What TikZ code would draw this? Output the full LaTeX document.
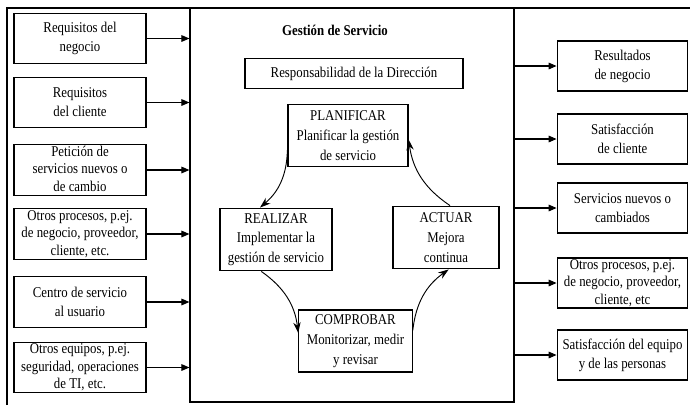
\documentclass[tikz,border=0pt]{standalone}
\usepackage{fontspec}
\setmainfont{Liberation Serif}[FakeStretch=0.86]
\usetikzlibrary{arrows.meta}

\begin{document}
\begin{tikzpicture}[
        x=0.75pt, y=-0.75pt,
        every node/.style={font=\fontsize{11.2}{14.2}\selectfont, align=center},
        box/.style={draw, line width=0.9pt, inner sep=0pt},
        inbox/.style={box, minimum width=99pt, minimum height=38pt},
        outbox/.style={box, minimum width=98pt, minimum height=37.5pt},
        tight/.style={font=\fontsize{11.2}{13.2}\selectfont, text depth=2pt},
        phase/.style={box, minimum height=47pt, font=\fontsize{11.2}{14.8}\selectfont},
        feed/.style={line width=0.8pt, -{Triangle[length=6pt, width=5pt]}},
        cycle/.style={line width=0.7pt, -{Stealth[length=8pt, width=5.5pt]}, bend left=24},
    ]
        \useasboundingbox (0,0) rectangle (690,405);
        \draw[line width=0.9pt] (7,405) -- (7,8) -- (690,8);
        \node[box, minimum width=243pt, minimum height=295.5pt] (main) at (352,205) {};

        \node[inbox] (req1) at (80,38.5) {Requisitos del\\negocio};
        \node[inbox] (req2) at (80,102.5) {Requisitos\\del cliente};
        \node[inbox, tight] (req3) at (80,170) {Petición de\\servicios nuevos o\\de cambio};
        \node[inbox, tight] (req4) at (80,234) {Otros procesos, p.ej.\\de negocio, proveedor,\\cliente, etc.};
        \node[inbox] (req5) at (80,302) {Centro de servicio\\al usuario};
        \node[inbox, tight] (req6) at (80,367.5) {Otros equipos, p.ej.\\seguridad, operaciones\\de TI, etc.};

        \node[outbox] (res1) at (622.5,66) {Resultados\\de negocio};
        \node[outbox] (res2) at (622.5,139) {Satisfacción\\de cliente};
        \node[outbox] (res3) at (622.5,208) {Servicios nuevos o\\cambiados};
        \node[outbox, tight] (res4) at (622.5,283) {Otros procesos, p.ej.\\de negocio, proveedor,\\cliente, etc};
        \node[outbox] (res5) at (622.5,355) {Satisfacción del equipo\\y de las personas};

        \node[font=\fontsize{11.2}{14.2}\selectfont\bfseries] (title) at (335,30) {Gestión de Servicio};
        \node[box, minimum width=163.5pt, minimum height=23pt] (resp) at (354,73.5) {Responsabilidad de la Dirección};
        \node[phase, minimum width=90pt] (plan) at (348,135.5) {PLANIFICAR\\Planificar la gestión\\de servicio};
        \node[phase, minimum width=84pt] (real) at (276,239.5) {REALIZAR\\Implementar la\\gestión de servicio};
        \node[phase, minimum width=79.5pt] (act) at (446,237.5) {ACTUAR\\Mejora\\continua};
        \node[phase, minimum width=85pt, minimum height=46.5pt] (comp) at (355.5,341) {COMPROBAR\\Monitorizar, medir\\y revisar};

        \foreach \n in {req1,req2,req3,req4,req5,req6}
            \draw[feed] (\n.east) -- (\n.east -| main.west);
        \foreach \n in {res1,res2,res3,res4,res5}
            \draw[feed] (\n.west -| main.east) -- (\n.west);

        \draw[cycle] ([yshift=-11pt]plan.west) to (real.north -| 260,0);
        \draw[cycle] ([xshift=-11pt]real.south) to ([yshift=6pt]comp.west);
        \draw[cycle] ([yshift=8pt]comp.east) to ([xshift=2pt]act.south);
        \draw[cycle] ([xshift=3pt]act.north) to ([yshift=-3pt]plan.east);
    \end{tikzpicture}
\end{document}
